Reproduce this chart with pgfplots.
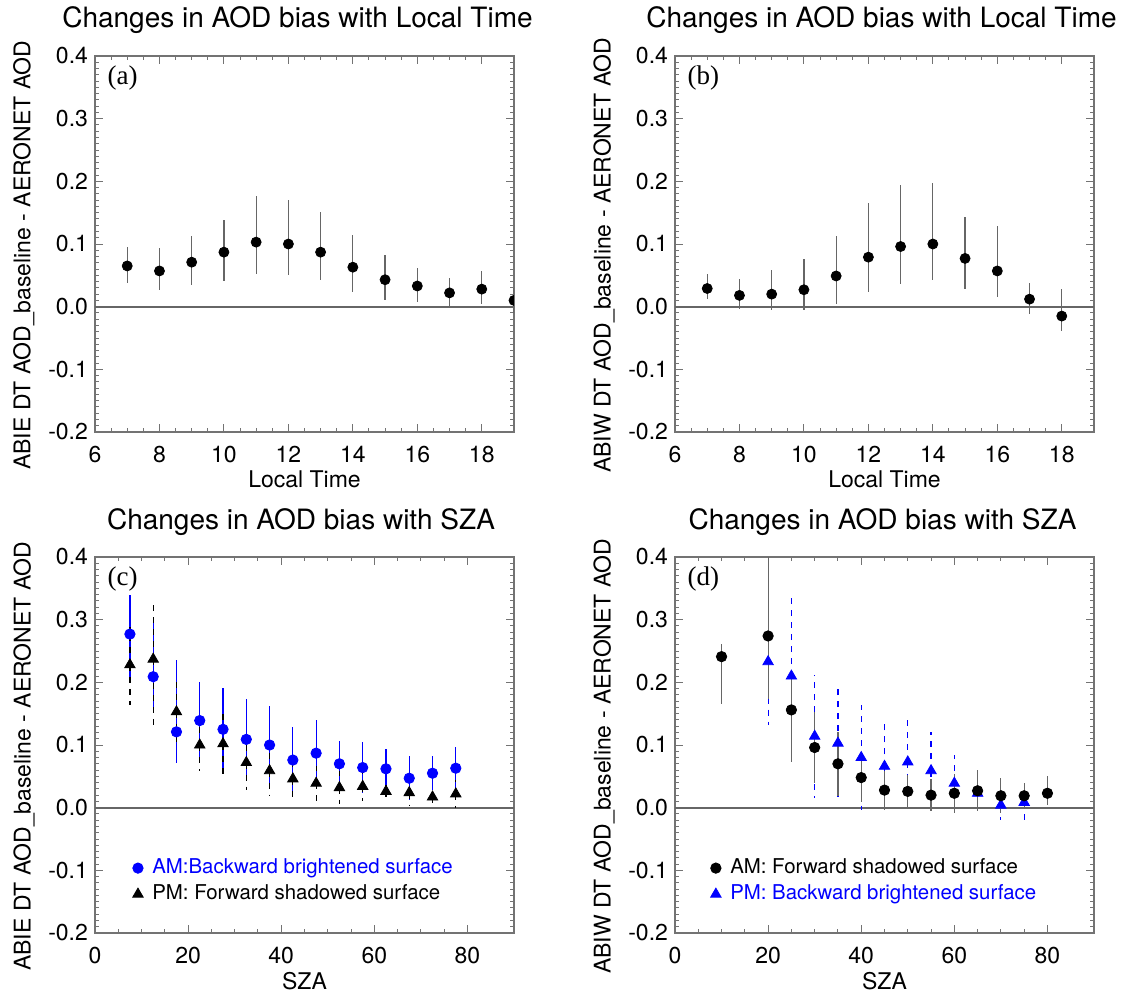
\documentclass[border=0pt]{standalone}
\usepackage{fontspec}
\setmainfont{TeX Gyre Heros}
\newfontfamily\seriffont{Liberation Serif}
\usepackage{pgfplots}
\usepackage{pgfplotstable}
\pgfplotsset{compat=1.18}

% Local time panels: x  y  plus  minus
\pgfplotstableread{
x y ep em
7 0.065 0.031 0.0265
8 0.057 0.036 0.030
9 0.071 0.042 0.036
10 0.087 0.052 0.046
11 0.103 0.073 0.051
12 0.100 0.070 0.049
13 0.087 0.064 0.044
14 0.063 0.052 0.039
15 0.043 0.040 0.032
16 0.033 0.029 0.026
17 0.022 0.024 0.022
18 0.028 0.029 0.023
19 0.010 0.020 0.020
}\tabA
\pgfplotstableread{
x y ep em
7 0.029 0.023 0.016
8 0.018 0.026 0.021
9 0.020 0.038 0.026
10 0.027 0.049 0.032
11 0.049 0.064 0.044
12 0.079 0.086 0.056
13 0.096 0.098 0.060
14 0.100 0.097 0.057
15 0.077 0.066 0.049
16 0.057 0.071 0.042
17 0.012 0.025 0.023
18 -0.015 0.043 0.024
}\tabB
% SZA panels
\pgfplotstableread{
x y ep em
7.5 0.277 0.062 0.070
12.5 0.209 0.090 0.050
17.5 0.121 0.114 0.050
22.5 0.139 0.062 0.062
27.5 0.125 0.066 0.066
32.5 0.109 0.065 0.065
37.5 0.100 0.063 0.063
42.5 0.076 0.053 0.053
47.5 0.087 0.053 0.053
52.5 0.070 0.036 0.036
57.5 0.064 0.041 0.041
62.5 0.062 0.032 0.032
67.5 0.047 0.035 0.035
72.5 0.055 0.027 0.027
77.5 0.063 0.034 0.034
}\tabCam
\pgfplotstableread{
x y ep em
7.5 0.228 0.060 0.064
12.5 0.237 0.094 0.112
17.5 0.153 0.050 0.050
22.5 0.100 0.041 0.041
27.5 0.102 0.050 0.050
32.5 0.072 0.043 0.043
37.5 0.059 0.039 0.039
42.5 0.046 0.035 0.035
47.5 0.039 0.028 0.028
52.5 0.032 0.026 0.026
57.5 0.034 0.024 0.024
62.5 0.026 0.019 0.019
67.5 0.024 0.021 0.021
72.5 0.017 0.017 0.017
77.5 0.022 0.022 0.022
}\tabCpm
\pgfplotstableread{
x y ep em
10 0.241 0.020 0.075
20 0.274 0.150 0.100
25 0.156 0.060 0.083
30 0.096 0.056 0.056
35 0.070 0.051 0.051
40 0.048 0.039 0.039
45 0.028 0.031 0.031
50 0.026 0.026 0.026
55 0.020 0.026 0.026
60 0.023 0.031 0.031
65 0.027 0.033 0.033
70 0.019 0.028 0.028
75 0.019 0.020 0.020
80 0.023 0.028 0.018
}\tabDam
\pgfplotstableread{
x y ep em
20 0.233 0.100 0.101
25 0.210 0.126 0.126
30 0.114 0.098 0.098
35 0.103 0.091 0.091
40 0.080 0.084 0.084
45 0.066 0.070 0.070
50 0.073 0.070 0.070
55 0.059 0.061 0.061
60 0.039 0.045 0.045
65 0.023 0.023 0.023
70 0.004 0.023 0.023
75 0.0085 0.030 0.030
}\tabDpm

\definecolor{frame}{gray}{0.45}
\pgfplotsset{
  panel/.style={
    width=209.5pt, height=188pt, scale only axis,
    ymin=-0.2, ymax=0.4,
    ytick={-0.2,-0.1,0,0.1,0.2,0.3,0.4},
    minor y tick num=9, minor x tick num=3,
    tick align=inside, major tick length=4pt, minor tick length=2pt,
    axis line style={frame, line width=0.6pt},
    every tick/.style={frame, line width=0.5pt},
    tick label style={font=\fontsize{11.5}{13}\selectfont},
    label style={font=\fontsize{11.5}{13}\selectfont},
    title style={font=\fontsize{14}{16}\selectfont},
    /pgf/number format/assume math mode=true,
    yticklabel style={/pgf/number format/fixed,
      /pgf/number format/fixed zerofill, /pgf/number format/precision=1},
    xticklabel style={yshift=-3.7pt},
    xlabel style={yshift=3pt},
    ylabel style={at={(ticklabel cs:0.47)}},
    legend style={draw=none, fill=none, anchor=west,
      font=\fontsize{10.2}{12}\selectfont,
      nodes={inner sep=0.5pt, text height=8pt, text depth=2.5pt},
      row sep=1.5pt},
    legend cell align=left,
  },
  ltime/.style={panel, xmin=6, xmax=19, xtick={6,8,...,18}, xlabel={Local Time},
    title={Changes in AOD bias with Local Time}},
  sza/.style={panel, xmin=0, xmax=90, xtick={0,20,...,80}, xlabel={SZA},
    title={Changes in AOD bias with SZA}},
  zeroline/.style={black!60, line width=0.9pt, forget plot},
  ebar/.style={error bars/.cd, y dir=both, y explicit, error mark=none},
  dotlegend/.style={legend image code/.code={%
    \path (-3pt,0pt) (6.5pt,0pt);
    \draw[mark repeat=1,##1] plot coordinates {(0pt,0pt)};}},
}

\begin{document}
\begin{tikzpicture}
\useasboundingbox (0,0) rectangle (562.5pt,496.5pt);

% (a)
\begin{axis}[ltime, at={(47.5pt,280.5pt)}, anchor=south west,
  title style={xshift=-3.5pt, yshift=1.5pt},
  ylabel={ABIE DT AOD\_baseline - AERONET AOD}, clip marker paths=true]
\addplot[zeroline] coordinates {(6,0) (19,0)};
\addplot[only marks, mark=*, mark size=2.5pt, black, ebar,
  error bar style={black!60, line width=0.6pt}]
  table[x=x, y=y, y error plus=ep, y error minus=em] {\tabA};
\node[anchor=north west, inner sep=0pt, font=\seriffont\fontsize{13.5}{14}\selectfont]
  at (rel axis cs:0.029,0.975) {(a)};
\end{axis}

% (b)
\begin{axis}[ltime, at={(337.5pt,280.5pt)}, anchor=south west,
  title style={xshift=-1.5pt, yshift=1.5pt},
  ylabel={ABIW DT AOD\_baseline - AERONET AOD}]
\addplot[zeroline] coordinates {(6,0) (19,0)};
\addplot[only marks, mark=*, mark size=2.5pt, black, ebar,
  error bar style={black!60, line width=0.6pt}]
  table[x=x, y=y, y error plus=ep, y error minus=em] {\tabB};
\node[anchor=north west, inner sep=0pt, font=\seriffont\fontsize{13.5}{14}\selectfont]
  at (rel axis cs:0.029,0.975) {(b)};
\end{axis}

% (c)
\begin{axis}[sza, at={(47.5pt,30pt)}, anchor=south west,
  title style={xshift=-1.75pt, yshift=1pt},
  ylabel={ABIE DT AOD\_baseline - AERONET AOD},
  legend style={at={(0.072,0.138)}}]
\addplot[zeroline] coordinates {(0,0) (90,0)};
\addplot[only marks, mark=*, mark size=2.6pt, blue, forget plot, ebar,
  error bar style={blue, line width=0.6pt}]
  table[x=x, y=y, y error plus=ep, y error minus=em] {\tabCam};
\addplot[only marks, mark=triangle*, mark size=3pt, black, forget plot, ebar,
  error bar style={black, line width=0.6pt, dash pattern=on 3pt off 3pt}]
  table[x=x, y=y, y error plus=ep, y error minus=em] {\tabCpm};
\addlegendimage{only marks, mark=*, mark size=2.6pt, blue, dotlegend}
\addlegendentry{\textcolor{blue}{AM:Backward brightened surface}}
\addlegendimage{only marks, mark=triangle*, mark size=3pt, black, dotlegend}
\addlegendentry{PM: Forward shadowed surface}
\node[anchor=north west, inner sep=0pt, font=\seriffont\fontsize{13.5}{14}\selectfont]
  at (rel axis cs:0.029,0.975) {(c)};
\end{axis}

% (d)
\begin{axis}[sza, at={(337.5pt,30pt)}, anchor=south west,
  title style={xshift=-1pt, yshift=1pt},
  ylabel={ABIW DT AOD\_baseline - AERONET AOD},
  legend style={at={(0.067,0.138)}}]
\addplot[zeroline] coordinates {(0,0) (90,0)};
\addplot[only marks, mark=triangle*, mark size=3pt, blue, forget plot, ebar,
  error bar style={blue, line width=0.6pt, dash pattern=on 3pt off 3pt}]
  table[x=x, y=y, y error plus=ep, y error minus=em] {\tabDpm};
\addplot[only marks, mark=*, mark size=2.6pt, black, forget plot, ebar,
  error bar style={black!60, line width=0.6pt}]
  table[x=x, y=y, y error plus=ep, y error minus=em] {\tabDam};
\addlegendimage{only marks, mark=*, mark size=2.6pt, black, dotlegend}
\addlegendentry{AM: Forward shadowed surface}
\addlegendimage{only marks, mark=triangle*, mark size=3pt, blue, dotlegend}
\addlegendentry{\textcolor{blue}{PM: Backward brightened surface}}
\node[anchor=north west, inner sep=0pt, font=\seriffont\fontsize{13.5}{14}\selectfont]
  at (rel axis cs:0.029,0.975) {(d)};
\end{axis}
\end{tikzpicture}
\end{document}
